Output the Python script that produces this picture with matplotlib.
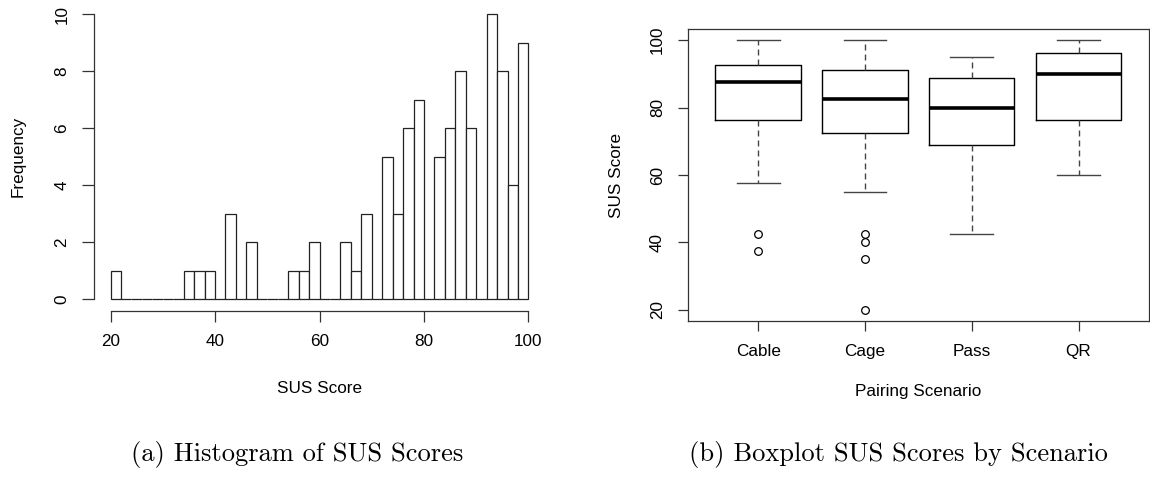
import matplotlib.pyplot as plt
import numpy as np

plt.rcParams["font.family"] = ["Liberation Sans", "DejaVu Sans"]

# histogram of SUS scores: bins of width 2 from 20 to 100
bin_edges = np.arange(20, 101, 2)
bin_counts = [1, 0, 0, 0, 0, 0, 0, 1, 1, 1,
              0, 3, 0, 2, 0, 0, 0, 1, 1, 2,
              0, 0, 2, 1, 3, 0, 5, 3, 6, 7,
              0, 5, 6, 8, 6, 0, 10, 8, 4, 9]

# five-number summaries per pairing scenario
scenarios = ["Cable", "Cage", "Pass", "QR"]
whisker_low = [57.5, 55.0, 42.5, 60.0]
q1 = [76.25, 72.5, 68.75, 76.25]
median = [87.5, 82.5, 80.0, 90.0]
q3 = [92.5, 91.25, 88.75, 96.25]
whisker_high = [100.0, 100.0, 95.0, 100.0]
outliers = [[42.5, 37.5], [42.5, 40.0, 35.0, 20.0], [], []]

W, H = 1150, 478
fig = plt.figure(figsize=(W / 100, H / 100), dpi=100)


def px_axes(x0, y0, x1, y1):
    return fig.add_axes([x0 / W, 1 - y1 / H, (x1 - x0) / W, (y1 - y0) / H])


ink = "#333333"
tick_fs = 12.3

# --- (a) histogram ---
ax1 = px_axes(93.8, 2.6, 545.2, 310.7)
ax1.bar(bin_edges[:-1], bin_counts, width=2, align="edge",
        facecolor="white", edgecolor="#222222", linewidth=0.9)
ax1.set_xlim(16.8, 103.2)
ax1.set_ylim(-0.4, 10.4)
for s in ["top", "right"]:
    ax1.spines[s].set_visible(False)
ax1.spines["bottom"].set_bounds(20, 100)
ax1.spines["left"].set_bounds(0, 10)
for s in ["bottom", "left"]:
    ax1.spines[s].set_color(ink)
    ax1.spines[s].set_linewidth(0.9)
ax1.set_xticks([20, 40, 60, 80, 100])
ax1.set_yticks([0, 2, 4, 6, 8, 10])
ax1.tick_params(axis="x", length=8, width=0.9, color=ink, pad=9, labelsize=tick_fs)
ax1.tick_params(axis="y", length=8.5, width=0.9, color=ink, pad=9, labelsize=tick_fs)
for lab in ax1.get_yticklabels():
    lab.set_rotation(90)
    lab.set_va("center")
ax1.set_xlabel("SUS Score", fontsize=tick_fs)
ax1.set_ylabel("Frequency", fontsize=tick_fs)
ax1.xaxis.set_label_coords(0.5, -0.251)
ax1.xaxis.label.set_va("center")
ax1.yaxis.set_label_coords(-0.168, 0.5)
ax1.yaxis.label.set_va("center")

# --- (b) boxplot ---
ax2 = px_axes(687.7, 29.3, 1149.0, 320.7)
stats = []
for i, name in enumerate(scenarios):
    stats.append(dict(label=name, whislo=whisker_low[i], q1=q1[i], med=median[i],
                      q3=q3[i], whishi=whisker_high[i], fliers=outliers[i]))
ax2.bxp(stats, widths=0.8, showfliers=True,
        boxprops=dict(color="black", linewidth=1.0),
        medianprops=dict(color="black", linewidth=2.6, solid_capstyle="butt"),
        whiskerprops=dict(color="#444444", linewidth=1.0, linestyle=(0, (4.3, 2.9))),
        capprops=dict(color="#444444", linewidth=1.0),
        flierprops=dict(marker="o", markersize=5.5, markerfacecolor="none",
                        markeredgecolor="black", markeredgewidth=0.9))
ax2.set_xlim(0.34, 4.66)
ax2.set_ylim(16.8, 103.2)
for s in ax2.spines.values():
    s.set_color(ink)
    s.set_linewidth(0.9)
ax2.set_yticks([20, 40, 60, 80, 100])
ax2.tick_params(axis="x", length=7.5, width=0.9, color=ink, pad=9, labelsize=tick_fs)
ax2.tick_params(axis="y", length=7.5, width=0.9, color=ink, pad=9, labelsize=tick_fs)
for lab in ax2.get_yticklabels():
    lab.set_rotation(90)
    lab.set_va("center")
ax2.set_xlabel("Pairing Scenario", fontsize=tick_fs)
ax2.set_ylabel("SUS Score", fontsize=tick_fs)
ax2.xaxis.set_label_coords(0.5, -0.2437)
ax2.xaxis.label.set_va("center")
ax2.yaxis.set_label_coords(-0.1537, 0.5)
ax2.yaxis.label.set_va("center")

# sub-figure captions
cap_font = dict(family="cmr10", fontsize=19.1, ha="center", va="center")
fig.text(297 / W, 1 - 454 / H, "(a) Histogram of SUS Scores", **cap_font)
fig.text(898 / W, 1 - 454 / H, "(b) Boxplot SUS Scores by Scenario", **cap_font)

fig.savefig("out.png", dpi=100)
